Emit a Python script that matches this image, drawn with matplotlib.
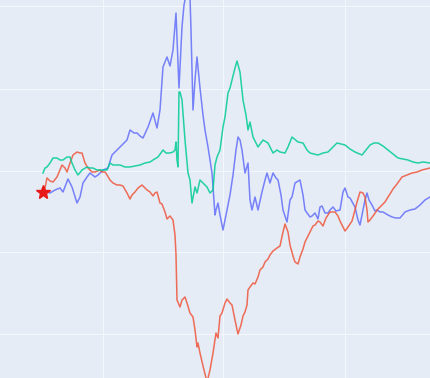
import matplotlib
matplotlib.use("Agg")
import matplotlib.pyplot as plt

# x = step, y = cumulative change
blue_x = [61, 65, 68, 73, 78, 81, 86, 90, 95, 98, 101, 105, 108, 113, 116, 121, 126, 130, 135, 140,
          145, 148, 152, 155, 158, 161, 166, 171, 175, 178, 181, 185, 188, 191, 194, 197, 200, 202, 204, 206,
          208, 209, 211, 213, 215, 218, 221, 223, 226, 228, 230, 231, 233, 234, 236, 238, 241, 244, 246, 248,
          251, 254, 256, 258, 260, 263, 266, 268, 270, 273, 276, 280, 283, 285, 288, 291, 294, 296, 299, 301,
          305, 308, 310, 313, 318, 321, 323, 328, 330, 333, 336, 338, 340, 343, 346, 348, 351, 354, 358, 361,
          363, 366, 368, 373, 376, 378, 381, 383, 385, 387, 390, 393, 395, 398, 401, 406, 410, 414, 418, 423,
          428, 433, 438, 443, 448]
blue_y = [-19, -21, -22, -19, -17, -21, -8, -16, -32, -26, -12, -6, -2, -6, -4, 1, 3, 16, 21, 26,
          31, 41, 38, 38, 35, 33, 44, 58, 43, 61, 104, 114, 105, 121, 158, 83, 144, 166, 176, 183,
          174, 141, 61, 91, 114, 83, 56, 41, 24, 11, -2, -16, -44, -39, -32, -44, -59, -44, -34, -24,
          -4, 21, 34, 31, 21, -2, 8, -29, -39, -26, -39, -21, -9, -2, -12, -2, -7, -9, -24, -39,
          -51, -29, -26, -12, -9, -24, -39, -46, -45, -42, -48, -36, -35, -42, -42, -39, -36, -40, -39, -21,
          -17, -26, -27, -36, -49, -54, -39, -29, -22, -29, -34, -40, -39, -41, -41, -44, -46, -47, -47, -41,
          -39, -38, -34, -29, -26]

red_x = [61, 63, 65, 68, 71, 75, 80, 83, 85, 88, 91, 95, 98, 100, 103, 106, 110, 113, 118, 120,
         123, 125, 128, 131, 135, 138, 141, 145, 148, 150, 153, 156, 160, 163, 165, 168, 171, 173, 175, 178,
         180, 183, 185, 188, 191, 193, 194, 195, 198, 200, 203, 205, 208, 211, 213, 215, 216, 218, 221, 223,
         225, 228, 231, 233, 234, 236, 238, 240, 243, 245, 248, 250, 253, 256, 259, 261, 263, 265, 266, 268,
         271, 273, 276, 278, 281, 283, 286, 288, 291, 295, 298, 301, 303, 306, 308, 311, 313, 316, 318, 321,
         323, 326, 328, 331, 333, 336, 338, 341, 344, 348, 351, 353, 356, 358, 361, 363, 366, 370, 373, 375,
         378, 381, 383, 385, 386, 388, 391, 396, 400, 403, 406, 408, 411, 415, 420, 425, 430, 435, 440, 444,
         448]
red_y = [-18, -17, -7, -10, -11, -6, 6, 3, -1, 8, 16, 19, 18, 18, 8, 3, -1, -1, 1, -1,
         -1, -4, -9, -12, -14, -14, -15, -22, -28, -24, -21, -17, -14, -17, -19, -21, -25, -22, -21, -32,
         -33, -41, -48, -45, -49, -64, -84, -129, -136, -129, -126, -132, -142, -146, -159, -176, -172, -182, -195, -203,
         -211, -199, -182, -169, -162, -167, -145, -142, -132, -128, -132, -134, -149, -163, -154, -145, -141, -134, -119, -116,
         -112, -113, -106, -99, -96, -91, -88, -84, -80, -77, -75, -61, -53, -61, -74, -85, -91, -93, -86, -78,
         -71, -65, -61, -55, -54, -50, -51, -55, -47, -41, -41, -41, -45, -50, -56, -60, -56, -50, -39, -31,
         -21, -22, -26, -39, -51, -49, -45, -38, -34, -31, -26, -23, -18, -13, -6, -4, -2, -1, 1, 2,
         3]

green_x = [61, 63, 65, 68, 71, 75, 78, 81, 85, 88, 90, 93, 96, 100, 105, 108, 111, 115, 118, 121,
           125, 128, 131, 135, 138, 143, 148, 153, 158, 163, 168, 171, 176, 181, 184, 188, 191, 193, 194, 195,
           196, 197, 198, 200, 203, 206, 208, 210, 213, 215, 218, 221, 225, 228, 231, 233, 235, 238, 241, 243,
           246, 248, 250, 253, 255, 258, 261, 264, 266, 268, 271, 276, 281, 286, 291, 295, 298, 303, 306, 310,
           316, 321, 325, 328, 332, 336, 341, 346, 350, 355, 359, 363, 368, 373, 380, 384, 388, 392, 396, 401,
           406, 411, 416, 421, 426, 431, 436, 441, 448]
green_y = [-2, 3, 4, 8, 13, 13, 11, 11, 14, 14, 8, 1, -4, 1, 4, 3, 3, 1, 1, 1,
           1, 8, 6, 6, 6, 4, 4, 5, 6, 8, 9, 11, 14, 21, 18, 18, 19, 21, 29, 11,
           4, 79, 79, 71, 31, -2, -9, -32, -16, -22, -9, -12, -16, -22, -19, 6, 14, 21, 44, 54,
           78, 83, 91, 103, 110, 99, 71, 56, 41, 49, 34, 24, 31, 28, 18, 21, 19, 18, 24, 34,
           29, 28, 21, 18, 17, 16, 18, 19, 23, 28, 27, 26, 22, 19, 16, 21, 26, 28, 28, 25,
           21, 17, 13, 12, 11, 9, 8, 9, 8]

start_x = [61]
start_y = [-21]

x_grid = [121, 241, 363]
y_grid = [-163, -81, 0, 82, 165]

fig = plt.figure(figsize=(4.3, 3.78), dpi=100)
ax = fig.add_axes([0, 0, 1, 1])
ax.set_facecolor("#E5ECF6")
fig.patch.set_facecolor("#E5ECF6")

ax.plot(blue_x, blue_y, color="#636EFA", lw=1.1, alpha=0.85)
ax.plot(red_x, red_y, color="#EF553B", lw=1.1, alpha=0.85)
ax.plot(green_x, green_y, color="#00CC96", lw=1.1, alpha=0.85)
ax.plot(start_x, start_y, marker="*", color="#E81818", markersize=10, linestyle="none")

ax.set_xlim(18, 448)
ax.set_ylim(-207, 171)
ax.set_xticks(x_grid)
ax.set_yticks(y_grid)
ax.grid(True, color="#F4F7FB", lw=0.8)
ax.set_axisbelow(True)
ax.tick_params(length=0, labelbottom=False, labelleft=False)
for s in ax.spines.values():
    s.set_visible(False)

fig.savefig("out.png", dpi=100)
